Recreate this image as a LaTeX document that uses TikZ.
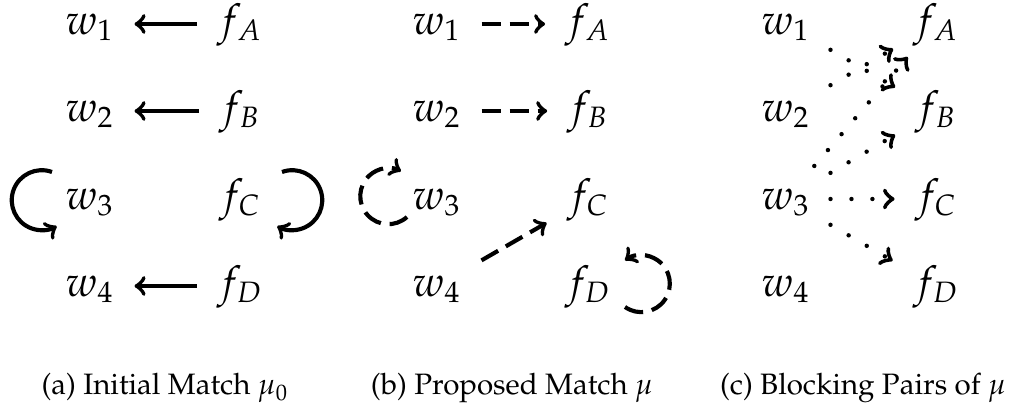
\documentclass[tikz,border=0pt]{standalone}
\usepackage[T1]{fontenc}
\usepackage{mathpazo}
\usepackage{tikz}

\tikzset{
  agent/.style={inner xsep=7pt, inner ysep=4pt, outer sep=0pt,
                text height=10.8pt, text depth=3.6pt, font=\Large},
  match/.style={->, line width=1.4pt},
  propose/.style={->, line width=1.4pt, dash pattern=on 6.5pt off 3pt},
  blocking/.style={->, line width=1.5pt, line cap=round, dash pattern=on 0pt off 7.1pt},
  subcap/.style={anchor=base, font=\normalsize}
}

\begin{document}
\begin{tikzpicture}[x=0.339pt, y=0.339pt]
\useasboundingbox (0,0) rectangle (1010,-406);

% (a) initial match
\node[agent] (a-w1) at (90,-24) {$w_1$};
\node[agent] (a-w2) at (90,-111) {$w_2$};
\node[agent] (a-w3) at (90,-199) {$w_3$};
\node[agent] (a-w4) at (90,-286) {$w_4$};
\node[agent] (a-fA) at (240,-24) {$f_A$};
\node[agent] (a-fB) at (240,-111) {$f_B$};
\node[agent] (a-fC) at (240,-199) {$f_C$};
\node[agent] (a-fD) at (240,-286) {$f_D$};

\draw[match] (a-fA) -- (a-w1);
\draw[match] (a-fB) -- (a-w2);
\draw[match] (a-fD) -- (a-w4);
\draw[match] ([shift={(-38,27)}]a-w3.center) arc[start angle=70, end angle=300, radius=30];
\draw[match] ([shift={(42,27)}]a-fC.center) arc[start angle=110, end angle=-120, radius=30];

\node[subcap] (cap-a) at (165,-395) {(a) Initial Match $\mu_0$};

% (b) proposed match
\node[agent] (b-w1) at (437,-24) {$w_1$};
\node[agent] (b-w2) at (437,-111) {$w_2$};
\node[agent] (b-w3) at (437,-199) {$w_3$};
\node[agent] (b-w4) at (437,-286) {$w_4$};
\node[agent] (b-fA) at (588,-24) {$f_A$};
\node[agent] (b-fB) at (588,-111) {$f_B$};
\node[agent] (b-fC) at (588,-199) {$f_C$};
\node[agent] (b-fD) at (588,-286) {$f_D$};

\draw[propose] (b-w1) -- (b-fA);
\draw[propose] (b-w2) -- (b-fB);
\draw[propose] (b-w4) -- (b-fC);
\draw[propose] ([shift={(-30,-18)}]b-w3.center) arc[start angle=-48, end angle=-297, radius=28];
\draw[propose] ([shift={(37,-21)}]b-fD.center) arc[start angle=-125, end angle=125, radius=28.5];

\node[subcap] (cap-b) at (512,-395) {(b) Proposed Match $\mu$};

% (c) blocking pairs
\node[agent] (c-w1) at (786,-24) {$w_1$};
\node[agent] (c-w2) at (786,-111) {$w_2$};
\node[agent] (c-w3) at (786,-199) {$w_3$};
\node[agent] (c-w4) at (786,-286) {$w_4$};
\node[agent] (c-fA) at (936,-24) {$f_A$};
\node[agent] (c-fB) at (936,-111) {$f_B$};
\node[agent] (c-fC) at (936,-199) {$f_C$};
\node[agent] (c-fD) at (936,-286) {$f_D$};

\draw[blocking] (c-w1) -- (c-fB);
\draw[blocking] (c-w2) -- (c-fA);
\draw[blocking] (c-w3) -- (c-fA);
\draw[blocking] (c-w3) -- (c-fB);
\draw[blocking] (c-w3) -- (c-fC);
\draw[blocking] (c-w3) -- (c-fD);

\node[subcap] (cap-c) at (863,-395) {(c) Blocking Pairs of $\mu$};

\end{tikzpicture}
\end{document}
